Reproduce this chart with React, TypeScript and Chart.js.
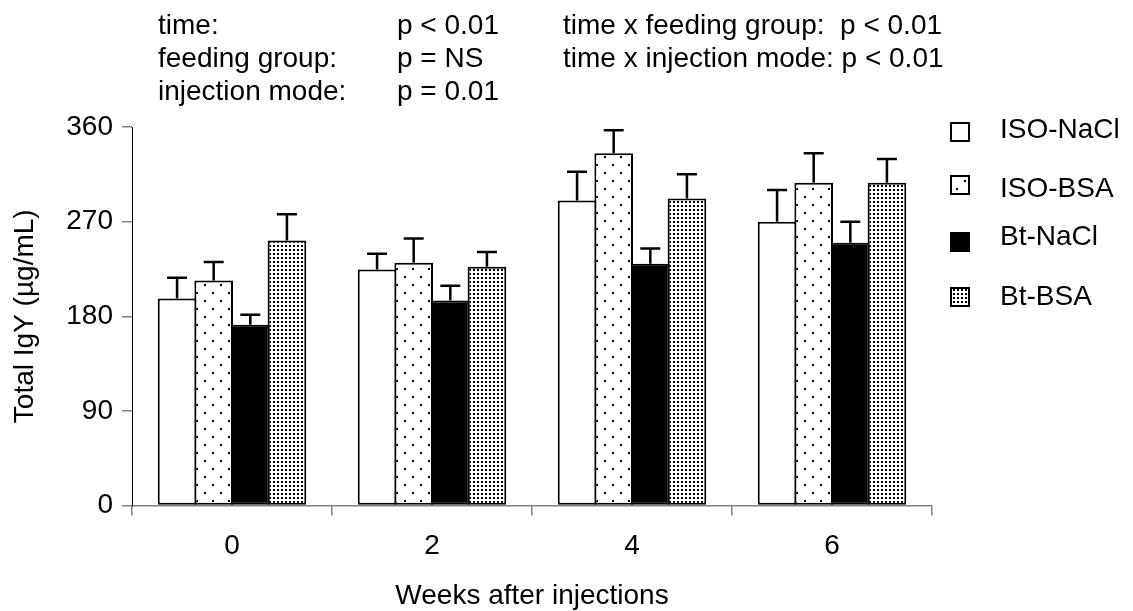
import React, { useEffect, useRef } from 'react';
import { Chart, registerables } from 'chart.js';

Chart.register(...registerables);

const categories = ['0', '2', '4', '6'];
const seriesNames = ['ISO-NaCl', 'ISO-BSA', 'Bt-NaCl', 'Bt-BSA'];
const isoNaCl = [197, 224.5, 290, 270];
const isoNaClErr = [19.5, 15, 27.5, 30];
const isoBSA = [214, 231, 335, 307];
const isoBSAErr = [17.5, 23, 22, 28];
const btNaCl = [172, 195, 230, 250];
const btNaClErr = [9.5, 14, 14.5, 20];
const btBSA = [252, 227, 292, 307];
const btBSAErr = [25, 14, 23, 22.5];
const yTicks = [0, 90, 180, 270, 360];
const statsLabels = ['time:', 'feeding group:', 'injection mode:'];
const statsP = ['p < 0.01', 'p = NS', 'p = 0.01'];
const interactionStats = ['time x feeding group:  p < 0.01', 'time x injection mode: p < 0.01'];
const xTitle = 'Weeks after injections';
const yTitle = 'Total IgY (µg/mL)';

const FONT = "'Liberation Sans', Arial, sans-serif";

function makePattern(kind: string): CanvasPattern | string {
  if (kind === 'white') return '#ffffff';
  if (kind === 'black') return '#000000';
  const c = document.createElement('canvas');
  const ctx = c.getContext('2d')!;
  if (kind === 'sparse') {
    c.width = 16; c.height = 16;
    ctx.fillStyle = '#fff'; ctx.fillRect(0, 0, 16, 16);
    ctx.fillStyle = '#000';
    ctx.fillRect(4, 4, 2, 2);
    ctx.fillRect(12, 12, 2, 2);
  } else {
    c.width = 4; c.height = 4;
    ctx.fillStyle = '#fff'; ctx.fillRect(0, 0, 4, 4);
    ctx.fillStyle = '#000';
    ctx.fillRect(1, 1, 2, 2);
  }
  return ctx.createPattern(c, 'repeat')!;
}

export default function App() {
  const ref = useRef<HTMLCanvasElement | null>(null);

  useEffect(() => {
    document.body.style.margin = '0';
    const canvas = ref.current!;
    const fills = [makePattern('white'), makePattern('sparse'), makePattern('black'), makePattern('dense')];
    const values = [isoNaCl, isoBSA, btNaCl, btBSA];
    const errors = [isoNaClErr, isoBSAErr, btNaClErr, btBSAErr];

    const errorBars = {
      id: 'errorBars',
      afterDatasetsDraw(chart: any) {
        const ctx = chart.ctx;
        const yScale = chart.scales.y;
        ctx.save();
        ctx.strokeStyle = '#000';
        ctx.lineWidth = 2.5;
        values.forEach((vals, di) => {
          const meta = chart.getDatasetMeta(di);
          meta.data.forEach((el: any, i: number) => {
            const top = yScale.getPixelForValue(vals[i] + errors[di][i]);
            ctx.beginPath();
            ctx.moveTo(el.x, el.y);
            ctx.lineTo(el.x, top);
            ctx.moveTo(el.x - 10, top);
            ctx.lineTo(el.x + 10, top);
            ctx.stroke();
          });
        });
        ctx.restore();
      },
    };

    const texts = {
      id: 'texts',
      afterDraw(chart: any) {
        const ctx = chart.ctx;
        const area = chart.chartArea;
        ctx.save();
        ctx.fillStyle = '#000';
        ctx.font = `28px ${FONT}`;
        ctx.textBaseline = 'alphabetic';
        ctx.textAlign = 'left';
        const baselines = [34, 67, 100];
        statsLabels.forEach((t, i) => ctx.fillText(t, 158, baselines[i]));
        statsP.forEach((t, i) => ctx.fillText(t, 397, baselines[i]));
        interactionStats.forEach((t, i) => ctx.fillText(t, 563, baselines[i]));

        // x title
        ctx.textAlign = 'center';
        ctx.fillText(xTitle, (area.left + area.right) / 2, 604);
        // y title
        ctx.save();
        ctx.translate(33, (area.top + area.bottom) / 2);
        ctx.rotate(-Math.PI / 2);
        ctx.fillText(yTitle, 0, 0);
        ctx.restore();

        // legend
        const boxY = [122, 175, 232, 287];
        const textBase = [138, 197, 245, 305];
        ctx.textAlign = 'left';
        seriesNames.forEach((name, i) => {
          ctx.fillStyle = fills[i] as any;
          ctx.fillRect(951, boxY[i] + 1, 18, 18);
          ctx.strokeStyle = '#000';
          ctx.lineWidth = 2;
          ctx.strokeRect(951, boxY[i] + 1, 18, 18);
          ctx.fillStyle = '#000';
          ctx.fillText(name, 1000, textBase[i]);
        });
        ctx.restore();
      },
    };

    const chart = new Chart(canvas, {
      type: 'bar',
      data: {
        labels: categories,
        datasets: seriesNames.map((name, i) => ({
          label: name,
          data: values[i],
          backgroundColor: fills[i] as any,
          borderColor: '#000',
          borderWidth: 2,
          borderSkipped: false,
          categoryPercentage: 0.7325,
          barPercentage: 1.055,
        })),
      },
      options: {
        animation: false,
        responsive: true,
        maintainAspectRatio: false,
        layout: { padding: { left: 0, top: 127, right: 201, bottom: 0 } },
        plugins: { legend: { display: false }, tooltip: { enabled: false }, title: { display: false } },
        scales: {
          x: {
            grid: { offset: true, drawOnChartArea: false, drawTicks: true, tickLength: 10, color: '#808080', lineWidth: 1.5 },
            border: { display: true, color: '#808080', width: 1.5 },
            ticks: { color: '#000', font: { family: FONT, size: 28 }, padding: 14 },
            afterFit: (s: any) => { s.height = 105.5; },
          },
          y: {
            min: 0,
            max: 360,
            afterBuildTicks: (s: any) => { s.ticks = yTicks.map((v) => ({ value: v })); },
            grid: { drawOnChartArea: false, drawTicks: true, tickLength: 10, color: '#808080', lineWidth: 1.5 },
            border: { display: true, color: '#000', width: 1 },
            ticks: { color: '#000', font: { family: FONT, size: 28 }, padding: 9 },
            afterFit: (s: any) => { s.width = 132; },
          },
        },
      },
      plugins: [errorBars, texts],
    });
    return () => chart.destroy();
  }, []);

  return (
    <div style={{ width: 1133, height: 611, position: 'relative', background: '#fff' }}>
      <canvas ref={ref} />
    </div>
  );
}
